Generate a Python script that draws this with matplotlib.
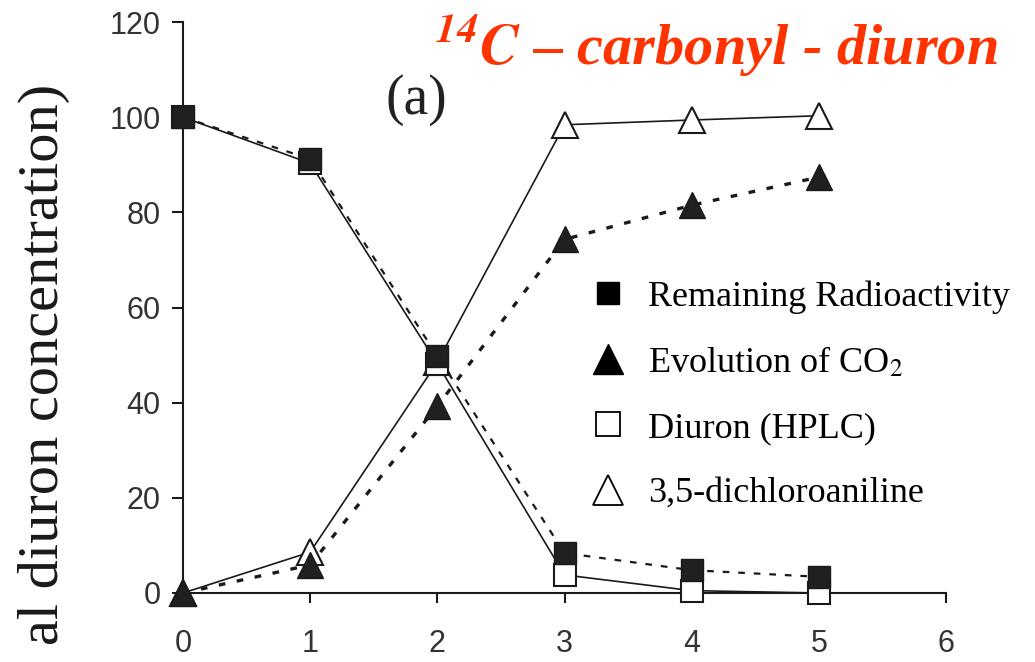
import matplotlib
matplotlib.use("Agg")
import matplotlib.pyplot as plt
from matplotlib.lines import Line2D

# ---- data ----
days = [0, 1, 2, 3, 4, 5]
remaining_radioactivity = [100, 91.2, 49.8, 8.4, 4.8, 3.4]
evolution_co2 = [0, 5.9, 39.3, 74.3, 81.5, 87.4]
diuron_hplc = [100, 90.3, 48.2, 3.8, 0.5, 0]
dichloroaniline = [0, 8.6, 48.5, 98.4, 99.4, 100.3]

x_ticks = [0, 1, 2, 3, 4, 5, 6]
y_ticks = [0, 20, 40, 60, 80, 100, 120]
labels = ["Remaining Radioactivity", "Evolution of CO$_2$",
          "Diuron (HPLC)", "3,5-dichloroaniline"]
ylabel_text = "al diuron concentration)"
title_text = r"$\mathbfit{^{14}C}$ – carbonyl - diuron"
panel_label = "(a)"

plt.rcParams["mathtext.fontset"] = "stix"

W, H = 1035, 662
fig = plt.figure(figsize=(W / 100, H / 100), dpi=100)
fig.patch.set_facecolor("white")

left, right, bottom, top = 183, 946, 593, 22
ax = fig.add_axes([left / W, 1 - bottom / H, (right - left) / W, (bottom - top) / H])
ax.set_xlim(0, 6)
ax.set_ylim(0, 120)

ink = "#1a1a1a"

# lines
ax.plot(days, diuron_hplc, color=ink, lw=1.2, zorder=3, clip_on=False)
ax.plot(days, dichloroaniline, color=ink, lw=1.2, zorder=3, clip_on=False)
ax.plot(days, remaining_radioactivity, color=ink, lw=1.6, ls=(0, (3, 4)), zorder=3, clip_on=False)
ax.plot(days, evolution_co2, color=ink, lw=2.4, ls=(0, (2, 3.5)), zorder=3, clip_on=False)

# markers
ms_sq, ms_tri = 16, 19
ax.plot(days, dichloroaniline, ls="none", marker="^", ms=ms_tri, mfc="white", mec=ink, mew=1.5, zorder=4, clip_on=False)
ax.plot(days, diuron_hplc, ls="none", marker="s", ms=ms_sq, mfc="white", mec=ink, mew=1.5, zorder=5, clip_on=False)
ax.plot(days, remaining_radioactivity, ls="none", marker="s", ms=ms_sq, mfc="#202020", mec=ink, mew=1.0, zorder=6, clip_on=False)
ax.plot(days, evolution_co2, ls="none", marker="^", ms=ms_tri, mfc="#202020", mec=ink, mew=1.0, zorder=6, clip_on=False)

# axes styling
for s in ["top", "right"]:
    ax.spines[s].set_visible(False)
for s in ["left", "bottom"]:
    ax.spines[s].set_color(ink)
    ax.spines[s].set_linewidth(1.5)
ax.set_xticks(x_ticks)
ax.set_yticks(y_ticks)
ax.tick_params(axis="both", direction="out", color=ink, width=1.5, labelcolor="#333333",
               labelsize=22)
ax.tick_params(axis="y", length=8, pad=8)
ax.tick_params(axis="x", length=7, pad=19)
for lab in ax.get_xticklabels() + ax.get_yticklabels():
    lab.set_fontfamily("Liberation Sans")

# legend
handles = [
    Line2D([], [], ls="none", marker="s", ms=16, mfc="black", mec="black"),
    Line2D([], [], ls="none", marker="^", ms=21, mfc="black", mec="black"),
    Line2D([], [], ls="none", marker="s", ms=17, mfc="white", mec="black", mew=1.3),
    Line2D([], [], ls="none", marker="^", ms=21, mfc="white", mec="black", mew=1.3),
]
leg = fig.legend(handles, labels, loc="upper left",
                 bbox_to_anchor=(590 / W, 1 - 280 / H), frameon=False,
                 prop={"family": "Liberation Serif", "size": 26},
                 handlelength=1.0, handletextpad=0.6, labelspacing=0.88,
                 borderaxespad=0, borderpad=0)

# title
fig.text(998 / W, 1 - 65 / H, title_text, color="#ff3300", fontsize=42,
         fontfamily="Liberation Serif", fontweight="bold", fontstyle="italic",
         ha="right", va="baseline")

# panel label
fig.text(416 / W, 1 - 100 / H, panel_label, fontsize=40, fontfamily="Liberation Serif",
         color="#222222", ha="center", va="center")

# y label (cropped in the original)
fig.text(58 / W, 1 - 84 / H, ylabel_text, rotation=90, rotation_mode="anchor",
         ha="right", va="baseline", fontsize=42, fontfamily="Liberation Serif",
         color="#1a1a1a")

fig.savefig("out.png", dpi=100, facecolor="white")
